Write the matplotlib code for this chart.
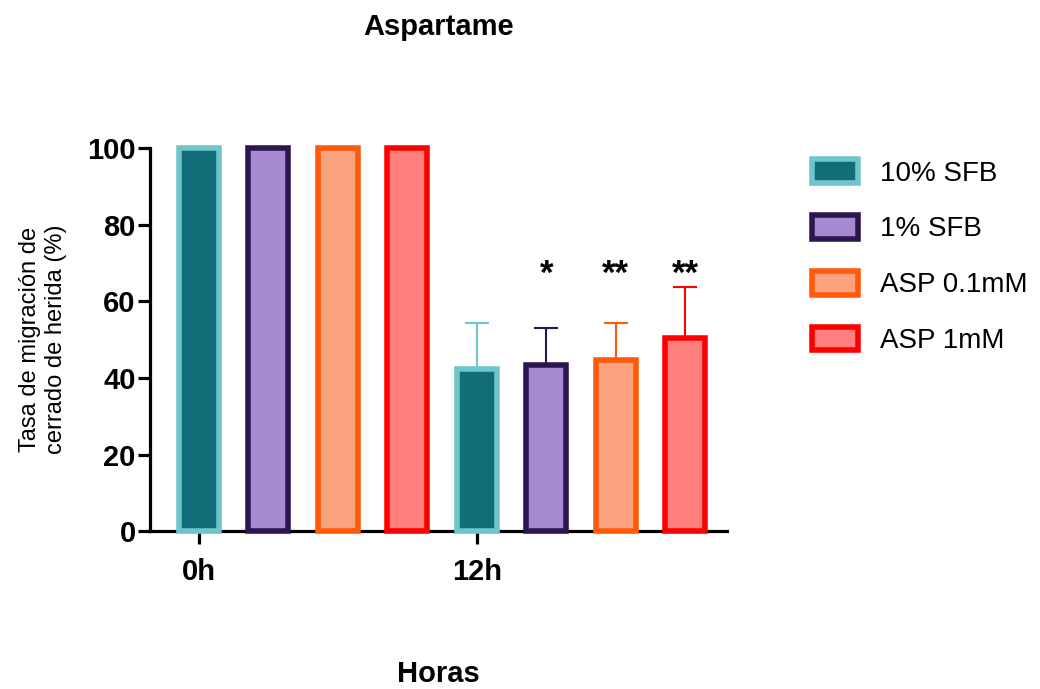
import numpy as np
import matplotlib
matplotlib.use('Agg')
import matplotlib.pyplot as plt

plt.rcParams['font.family'] = ['Liberation Sans', 'DejaVu Sans']

# Datos
tiempos = ['0h', '12h']
grupos = ['10% SFB', '1% SFB', 'ASP 0.1mM', 'ASP 1mM']
medias = {
    '0h': [100, 100, 100, 100],
    '12h': [42.3, 43.3, 44.6, 50.4],
}
errores = {
    '0h': [0, 0, 0, 0],
    '12h': [12.0, 9.7, 9.7, 13.3],
}
significancia = ['', '*', '**', '**']

# Colores (relleno, borde)
rellenos = ['#116E78', '#A58AD2', '#FAA27E', '#FF7F7F']
bordes = ['#6EC6CB', '#2D1650', '#FF5A0A', '#FF0000']

fig = plt.figure(figsize=(10.4, 6.89), dpi=100)
ax = fig.add_axes([0.144, 0.229, 0.555, 0.556])

ancho = 0.58
for t, tiempo in enumerate(tiempos):
    for g, grupo in enumerate(grupos):
        x = t * len(grupos) + g
        ax.bar(x, medias[tiempo][g], width=ancho, color=rellenos[g],
               edgecolor=bordes[g], linewidth=4, clip_on=False,
               label=grupo if t == 0 else None, zorder=3)
        if errores[tiempo][g] > 0:
            ax.errorbar(x, medias[tiempo][g], yerr=[[0], [errores[tiempo][g]]],
                        fmt='none', ecolor=bordes[g], elinewidth=1.5,
                        capsize=8.6, capthick=1.5, zorder=2)
        if significancia[g] and tiempo == '12h':
            ax.text(x, 67, significancia[g], ha='center', va='center',
                    fontsize=25, fontweight='bold')

ax.set_xlim(-0.705, 7.6)
ax.set_ylim(0, 100)
ax.set_yticks([0, 20, 40, 60, 80, 100])
ax.set_xticks([0, 4])
ax.set_xticklabels(tiempos)

for lado in ['top', 'right']:
    ax.spines[lado].set_visible(False)
for lado in ['left', 'bottom']:
    ax.spines[lado].set_linewidth(2.3)
ax.tick_params(axis='both', width=2.3, length=9, labelsize=21)
for lab in ax.get_xticklabels() + ax.get_yticklabels():
    lab.set_fontweight('bold')
ax.tick_params(axis='x', pad=10)
ax.tick_params(axis='y', pad=1)

ax.set_title('Aspartame', fontsize=21, fontweight='bold', y=1.295, pad=0)
ax.set_ylabel('Tasa de migración de\ncerrado de herida (%)', fontsize=17)
ax.yaxis.set_label_coords(-0.144, 0.5)
ax.set_xlabel('Horas', fontsize=21, fontweight='bold')
ax.xaxis.set_label_coords(0.5, -0.335)

ax.legend(loc='upper left', bbox_to_anchor=(0.77, 0.785), bbox_transform=fig.transFigure,
          frameon=False, fontsize=20, handlelength=1.65, handleheight=0.94,
          labelspacing=1.02, handletextpad=0.8, borderaxespad=0)

fig.savefig('out.png', dpi=100)
